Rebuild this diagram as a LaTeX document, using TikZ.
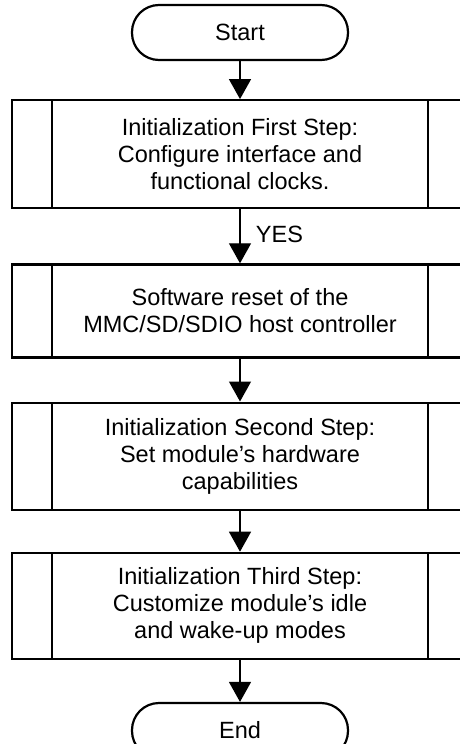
\documentclass[tikz,border=0pt]{standalone}
\usepackage{fontspec}
\setmainfont{Liberation Sans}
\usepackage{tikz}
\usetikzlibrary{shapes, arrows.meta, positioning}

\begin{document}
\begin{tikzpicture}[
			x=1pt, y=1pt,
			node distance=40pt,
			term/.style={rectangle, draw, line width=2.2pt, rounded corners=27pt,
				minimum width=216pt, minimum height=55pt,
				font=\fontsize{23.5pt}{27pt}\selectfont},
			proc/.style={rectangle, draw, line width=2.2pt,
				minimum width=456pt, align=center,
				font=\fontsize{23.5pt}{27pt}\selectfont,
				path picture={
					\draw[line width=2.2pt]
					([xshift=40pt]path picture bounding box.north west) --
					([xshift=40pt]path picture bounding box.south west)
					([xshift=-40pt]path picture bounding box.north east) --
					([xshift=-40pt]path picture bounding box.south east);
				}},
			arrow/.style={-{Triangle[length=20pt, width=22pt]}, line width=1.3pt}
			]
			\useasboundingbox (0,0) rectangle (460,-744);
			
			\node[term] (start) at (240,-32.5) {Start};
			\node[proc, minimum height=108pt, below=38pt of start] (init1)
			{Initialization First Step:\\ Configure interface and\\ functional clocks.};
			\node[proc, minimum height=93pt, below=54pt of init1] (reset)
			{Software reset of the\\ MMC/SD/SDIO host controller};
			\node[proc, minimum height=107pt, below=43pt of reset] (init2)
			{Initialization Second Step:\\ Set module’s hardware\\ capabilities};
			\node[proc, minimum height=106pt, below=41pt of init2] (init3)
			{Initialization Third Step:\\ Customize module’s idle\\ and wake-up modes};
			\node[term, below=42pt of init3] (stop) {End};
			
			\draw[arrow] (start) -- (init1);
			\draw[arrow] (init1) -- node[right=12pt, yshift=2pt, font=\fontsize{23.5pt}{27pt}\selectfont] {YES} (reset);
			\draw[arrow] (reset) -- (init2);
			\draw[arrow] (init2) -- (init3);
			\draw[arrow] (init3) -- (stop);
		\end{tikzpicture}
\end{document}
